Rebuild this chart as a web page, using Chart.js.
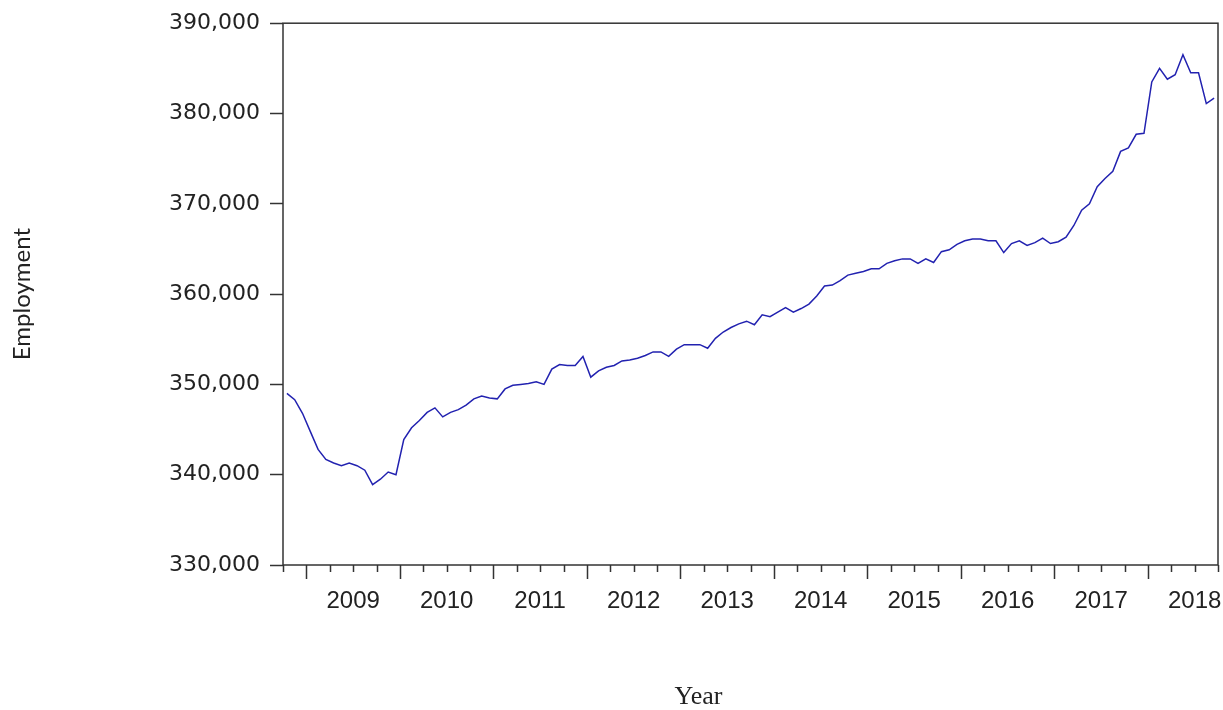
<!DOCTYPE html>
<html>
<head>
<meta charset="utf-8">
<style>
  html, body { margin: 0; padding: 0; background: #fff; }
  #wrap { width: 1223px; height: 710px; }
</style>
</head>
<body>
<div id="wrap">
  <canvas id="chart" width="1223" height="710"></canvas>
</div>

<script src="https://cdn.jsdelivr.net/npm/chart.js"></script>

<script>
  // monthly employment, 2008M10 .. 2018M09
  const employment = [
    349000, 348300, 346800, 344800, 342800, 341700, 341300, 341000, 341300, 341000, 340500, 338900,
    339500, 340300, 340000, 343900, 345200, 346000, 346900, 347400, 346400, 346900, 347200, 347700,
    348400, 348700, 348500, 348400, 349500, 349900, 350000, 350100, 350300, 350000, 351700, 352200,
    352100, 352100, 353100, 350800, 351500, 351900, 352100, 352600, 352700, 352900, 353200, 353600,
    353600, 353100, 353900, 354400, 354400, 354400, 354000, 355100, 355800, 356300, 356700, 357000,
    356600, 357700, 357500, 358000, 358500, 358000, 358400, 358900, 359800, 360900, 361000, 361500,
    362100, 362300, 362500, 362800, 362800, 363400, 363700, 363900, 363900, 363400, 363900, 363500,
    364700, 364900, 365500, 365900, 366100, 366100, 365900, 365900, 364600, 365600, 365900, 365400,
    365700, 366200, 365600, 365800, 366300, 367600, 369300, 370000, 371900, 372800, 373600, 375800,
    376200, 377700, 377800, 383500, 385000, 383800, 384300, 386500, 384500, 384500, 381100, 381700,
  ];
  const yearLabels = ['2009', '2010', '2011', '2012', '2013', '2014', '2015', '2016', '2017', '2018'];
  const monthsBeforeFirstYear = 3; // series starts in October 2008
  const totalMonths = employment.length;

  const points = employment.map((v, i) => ({ x: i + 0.5, y: v }));

  // quarter tick marks under the x axis, longer ones at year starts
  const quarterTicks = {
    id: 'quarterTicks',
    afterDraw(chart) {
      const { ctx, chartArea, scales } = chart;
      const xs = scales.x;
      ctx.save();
      ctx.strokeStyle = '#333';
      ctx.lineWidth = 1.5;
      ctx.beginPath();
      for (let m = 0; m <= totalMonths; m += 3) {
        const px = Math.round(xs.getPixelForValue(m)) + 0.5;
        const len = (m - monthsBeforeFirstYear) % 12 === 0 ? 14 : 7;
        ctx.moveTo(px, chartArea.bottom);
        ctx.lineTo(px, chartArea.bottom + len);
      }
      ctx.stroke();
      ctx.strokeRect(chartArea.left, chartArea.top, chartArea.right - chartArea.left, chartArea.bottom - chartArea.top);
      ctx.restore();
    },
  };

  const ctx = document.getElementById('chart');

  new Chart(ctx, {
    type: 'line',
    data: {
      datasets: [{
        label: 'Employment',
        data: points,
        borderColor: '#2222b0',
        borderWidth: 1.5,
        pointRadius: 0,
        tension: 0,
        fill: false,
      }],
    },
    options: {
      responsive: false,
      animation: false,
      events: [],
      layout: { padding: { top: 22, right: 5, left: 0, bottom: 0 } },
      plugins: {
        legend: { display: false },
        tooltip: { enabled: false },
      },
      scales: {
        x: {
          type: 'linear',
          min: 0,
          max: totalMonths,
          grid: { display: false },
          border: { display: false },
          afterBuildTicks: (scale) => {
            scale.ticks = yearLabels.map((_, k) => ({ value: monthsBeforeFirstYear + 6 + 12 * k }));
          },
          afterFit: (scale) => {
            scale.height = 145;
            scale.paddingLeft = 0;
            scale.paddingRight = 0;
          },
          ticks: {
            autoSkip: false,
            maxRotation: 0,
            padding: 14,
            color: '#222',
            font: { family: 'Liberation Sans', size: 24 },
            callback: (v) => yearLabels[(v - monthsBeforeFirstYear - 6) / 12],
          },
          title: {
            display: true,
            // trailing spaces pull the centred title left, as in the original
            text: 'Year' + ' '.repeat(16),
            color: '#222',
            font: { family: 'Liberation Serif', size: 26, lineHeight: 1 },
            padding: { top: 0, bottom: 0 },
          },
        },
        y: {
          min: 330000,
          max: 390000,
          grid: {
            drawOnChartArea: false,
            drawTicks: true,
            tickLength: 13,
            tickWidth: 1.5,
            tickColor: '#333',
          },
          border: { display: false },
          afterFit: (scale) => { scale.width = 283; },
          ticks: {
            stepSize: 10000,
            padding: 10,
            color: '#222',
            font: { family: 'DejaVu Sans', size: 22 },
            callback: (v) => v.toLocaleString('en-US'),
          },
          title: {
            display: true,
            text: 'Employment',
            color: '#222',
            font: { family: 'Lato', size: 24 },
            padding: { top: 8, bottom: 0 },
          },
        },
      },
    },
    plugins: [quarterTicks],
  });
</script>
</body>
</html>
